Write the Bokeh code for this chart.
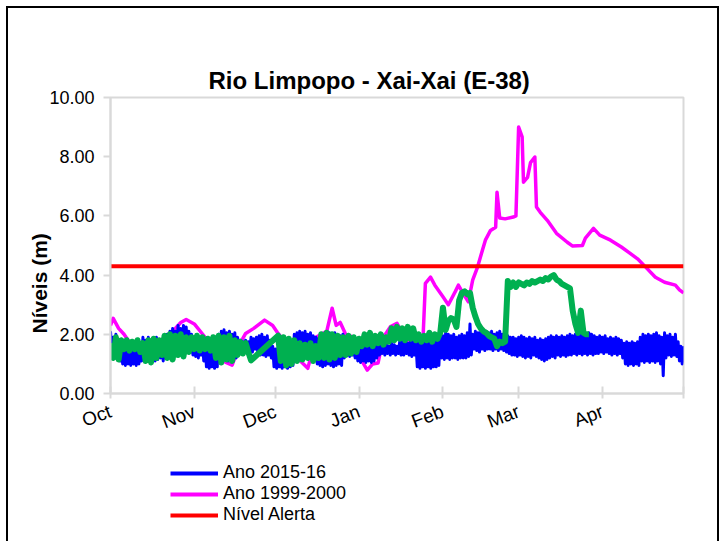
import math
from bokeh.plotting import figure
from bokeh.layouts import column
from bokeh.models import Range1d, FixedTicker, Legend, LegendItem, Title, PrintfTickFormatter
from bokeh.embed import file_html
from bokeh.resources import INLINE

# ---------------- data ----------------
# x positions are days since 1 October
month_ticks = [0, 31, 61, 92, 123, 151, 182, 212]
month_labels = ["Oct", "Nov", "Dec", "Jan", "Feb", "Mar", "Apr", ""]
y_ticks = [0, 2, 4, 6, 8, 10]

# Ano 2015-16: daily high-water and low-water readings, days 0..212
blue_high = [
    2.1, 1.9, 2.0, 1.7, 1.8, 1.6, 1.7, 1.5, 1.6, 1.7,
    1.8, 1.7, 1.9, 1.8, 1.9, 1.7, 1.8, 1.9, 1.8, 1.7,
    1.9, 2.0, 2.1, 2.2, 2.1, 2.3, 2.2, 2.3, 2.25, 2.1,
    2.0, 1.9, 1.95, 1.9, 1.8, 1.7, 1.75, 1.6, 1.7, 1.8,
    2.0, 2.1, 2.15, 2.05, 2.1, 2.0, 2.05, 1.9, 1.8, 1.75,
    1.8, 1.75, 1.9, 1.85, 1.9, 1.95, 2.0, 1.9, 1.95, 1.8,
    1.6, 1.5, 1.55, 1.5, 1.6, 1.5, 1.6, 1.7, 2.0, 2.05,
    2.1, 2.05, 2.1, 2.0, 2.05, 1.95, 1.9, 1.85, 1.8, 1.9,
    2.0, 2.05, 1.95, 2.05, 1.9, 1.95, 2.0, 1.9, 1.95, 1.9,
    1.8, 1.75, 1.7, 1.65, 1.6, 1.7, 1.65, 1.7, 1.7, 1.65,
    1.7, 1.65, 1.7, 1.6, 1.7, 1.65, 1.6, 1.75, 1.8, 1.75,
    1.7, 1.75, 1.8, 1.7, 1.75, 1.8, 1.7, 1.8, 1.75, 1.7,
    1.8, 1.9, 2.0, 1.95, 2.05, 2.0, 1.95, 2.0, 1.9, 1.95,
    2.0, 1.95, 2.05, 2.35, 2.0, 2.1, 2.05, 2.1, 2.0, 2.1,
    2.05, 2.1, 2.0, 2.05, 2.1, 2.0, 2.05, 1.95, 1.9, 1.9,
    1.85, 1.9, 1.95, 1.9, 1.85, 1.9, 1.85, 1.9, 1.8, 1.85,
    1.8, 1.85, 1.9, 1.95, 1.9, 1.95, 1.9, 1.95, 1.9, 1.95,
    2.0, 1.95, 2.0, 1.95, 2.0, 2.05, 1.95, 2.05, 2.0, 1.95,
    1.9, 1.95, 1.9, 1.95, 1.85, 1.9, 1.85, 1.9, 1.85, 1.8,
    1.7, 1.75, 1.7, 1.75, 1.7, 1.75, 1.9, 2.0, 1.95, 2.0,
    1.95, 2.0, 2.05, 1.95, 1.9, 2.05, 1.95, 2.0, 1.9, 2.0,
    1.75, 1.6, 1.55,
]
blue_low = [
    1.4, 1.3, 1.2, 1.1, 1.0, 0.95, 1.0, 0.95, 1.0, 0.95,
    1.0, 1.1, 1.1, 1.2, 1.1, 1.2, 1.1, 1.15, 1.2, 1.1,
    1.2, 1.3, 1.4, 1.45, 1.5, 1.4, 1.6, 1.55, 1.5, 1.4,
    1.3, 1.25, 1.2, 1.3, 1.1, 0.9, 0.85, 0.9, 0.85, 0.9,
    1.1, 1.15, 1.2, 1.1, 1.15, 1.1, 1.2, 1.4, 1.5, 1.45,
    1.5, 1.45, 1.4, 1.5, 1.4, 1.3, 1.3, 1.25, 1.3, 1.2,
    0.9, 0.85, 0.9, 0.85, 0.9, 0.85, 0.9, 0.95, 1.2, 1.3,
    1.4, 1.3, 1.35, 1.3, 1.2, 1.25, 1.0, 0.95, 0.9, 0.95,
    1.0, 0.95, 0.9, 0.95, 1.0, 0.95, 1.2, 1.3, 1.25, 1.3,
    1.2, 1.1, 1.05, 1.1, 1.05, 1.1, 1.05, 1.1, 1.2, 1.3,
    1.35, 1.3, 1.35, 1.3, 1.35, 1.3, 1.35, 1.3, 1.3, 1.35,
    1.3, 1.25, 1.3, 0.9, 0.85, 0.9, 0.85, 0.9, 0.85, 0.9,
    0.9, 0.95, 1.2, 1.15, 1.2, 1.15, 1.2, 1.2, 1.15, 1.2,
    1.2, 1.2, 1.25, 1.3, 1.5, 1.45, 1.4, 1.5, 1.45, 1.5,
    1.5, 1.45, 1.5, 1.45, 1.5, 1.45, 1.4, 1.35, 1.3, 1.3,
    1.25, 1.3, 1.25, 1.2, 1.25, 1.2, 1.3, 1.25, 1.2, 1.15,
    1.1, 1.15, 1.2, 1.25, 1.2, 1.3, 1.25, 1.3, 1.25, 1.3,
    1.3, 1.35, 1.3, 1.35, 1.3, 1.35, 1.3, 1.35, 1.3, 1.35,
    1.35, 1.4, 1.35, 1.4, 1.35, 1.3, 1.35, 1.3, 1.35, 1.2,
    1.0, 0.95, 1.0, 0.95, 1.0, 0.95, 1.1, 1.05, 1.1, 1.05,
    1.1, 1.05, 1.1, 1.0, 0.6, 1.2, 1.3, 1.25, 1.3, 1.25,
    1.1, 1.0, 1.05,
]

# Ano 1999-2000
magenta_days = [
    0, 1, 3, 5, 8, 12, 16, 20, 23, 26, 28, 31, 35, 39, 42.5, 45, 48, 50, 53, 57,
    60, 62, 65, 68, 73, 76, 80, 82, 83.5, 85, 87, 90, 93, 95, 97, 99, 101, 103.5, 106, 109,
    111.5, 113.5, 115.5, 116.5, 118.4, 120, 123, 125, 127.6, 128.7, 131, 132.4, 134, 135.8, 137.6, 138.7, 140.6, 142.5, 143, 144,
    146, 149, 150, 151, 152.3, 152.8, 154.3, 155.4, 157, 157.6, 159, 161.6, 165, 169, 171, 174.6, 175.7, 178.7, 181, 185,
    189, 192, 195, 198, 201.6, 205, 209, 210.5, 212,
]
magenta_vals = [
    2.3, 2.54, 2.2, 2.0, 1.6, 1.5, 1.6, 1.9, 2.1, 2.4, 2.5, 2.35, 1.9, 1.4, 1.06, 0.96, 1.7, 2.03, 2.2, 2.48,
    2.3, 2.03, 1.7, 1.3, 0.85, 1.9, 2.1, 2.88, 2.3, 2.4, 2.0, 1.9, 1.1, 0.79, 1.0, 1.03, 1.9, 2.25, 2.37, 1.87,
    1.57, 1.4, 1.6, 3.72, 3.93, 3.66, 3.27, 3.0, 3.45, 3.66, 3.3, 3.1, 3.83, 4.27, 4.84, 5.18, 5.51, 5.62, 6.8, 5.93,
    5.9, 5.96, 6.0, 9.0, 8.67, 7.14, 7.3, 7.8, 7.99, 6.3, 6.12, 5.85, 5.41, 5.11, 4.98, 5.0, 5.25, 5.58, 5.35, 5.18,
    4.95, 4.75, 4.55, 4.27, 3.93, 3.76, 3.66, 3.5, 3.4,
]

# Third (unlabelled) series, green; no readings between day 53 and day 61
green_days = list(range(0, 53)) + list(range(62, 178))
green_vals = [
    1.7, 1.2, 1.9, 1.15, 1.8, 1.5, 1.8, 1.45, 1.75, 1.5,
    1.8, 1.4, 1.7, 1.1, 1.8, 1.05, 1.85, 1.2, 1.8, 1.3,
    1.95, 1.2, 2.0, 1.15, 1.95, 1.3, 2.0, 1.25, 1.9, 1.4,
    1.9, 1.5, 1.95, 1.45, 1.9, 1.5, 1.85, 1.45, 1.9, 1.2,
    1.95, 1.05, 1.9, 1.15, 1.95, 1.1, 1.8, 1.3, 1.75, 1.35,
    1.7, 1.4, 1.12,
    1.95, 1.1, 1.9, 0.95, 1.85, 1.0, 1.8, 1.1,
    1.7, 1.15, 1.65, 1.2, 1.7, 1.1, 1.6, 1.2, 2.0, 1.2,
    2.05, 1.15, 2.0, 1.2, 1.95, 1.3, 1.9, 1.3, 1.95, 1.35,
    1.9, 1.4, 1.85, 1.6, 2.0, 1.65, 2.05, 1.6, 1.95, 1.7,
    2.0, 1.65, 1.9, 1.75, 2.2, 1.8, 2.25, 1.85, 2.2, 1.8,
    2.25, 1.85, 2.2, 1.8, 2.0, 1.75, 1.95, 1.8, 2.05, 1.75,
    2.0, 1.85, 2.05, 2.9, 2.15, 2.45, 2.55, 2.5, 2.25, 3.15,
    3.4, 3.45, 3.35, 3.4, 2.9, 2.6, 2.35, 2.2, 2.1, 2.05,
    1.95, 1.9, 1.85, 1.6, 1.75, 1.7, 1.75, 3.8, 3.6, 3.75,
    3.6, 3.75, 3.7, 3.65, 3.75, 3.7, 3.8, 3.75, 3.8, 3.85,
    3.8, 3.9, 3.85, 3.95, 4.0, 3.85, 3.8, 3.7, 3.65, 3.6,
    3.55, 2.8, 2.35, 2.05, 2.8, 2.05, 2.0, 2.0,
]

# Nível Alerta
alert_days = [0, 212]
alert_vals = [4.3, 4.3]

series_labels = ["Ano 2015-16", "Ano 1999-2000", "Nível Alerta"]
title_text = "Rio Limpopo - Xai-Xai (E-38)"
y_label_text = "Níveis (m)"

# high water in the first half of each day, low water in the second half
blue_x, blue_y = [], []
for d, (hi, lo) in enumerate(zip(blue_high, blue_low)):
    blue_x += [d, d + 0.5]
    blue_y += [hi, lo]

# ---------------- styling constants ----------------
FONT = "Liberation Sans"
GRAY = "#d9d9d9"
C_BLUE, C_MAG, C_RED, C_GREEN = "#0000FF", "#FF00FF", "#FF0000", "#00B050"

# ---------------- main chart ----------------
p = figure(
    frame_width=573, frame_height=296,
    x_range=Range1d(0, 212), y_range=Range1d(0, 10),
    output_backend="svg", toolbar_location=None,
    min_border_left=102, min_border_right=34, min_border_top=89, min_border_bottom=60,
    background_fill_color="white", border_fill_color="white",
)

p.title.text = title_text
p.title.text_font = FONT
p.title.text_font_size = "24px"
p.title.text_font_style = "bold"
p.title.text_color = "black"
p.title.align = "left"
p.title.offset = 98
p.title.standoff = 8

p.xgrid.visible = False
p.ygrid.visible = False
p.outline_line_color = GRAY
p.outline_line_width = 2

xa = p.xaxis[0]
xa.ticker = FixedTicker(ticks=month_ticks)
xa.major_label_overrides = {t: l for t, l in zip(month_ticks, month_labels)}
xa.major_label_orientation = 0.36
xa.major_label_text_font = FONT
xa.major_label_text_font_size = "19px"
xa.major_label_text_color = "black"
xa.axis_line_color = GRAY
xa.axis_line_width = 2
xa.major_tick_line_color = GRAY
xa.major_tick_line_width = 2
xa.major_tick_in = 7
xa.major_tick_out = 5
xa.minor_tick_line_color = None
xa.major_label_standoff = 12

ya = p.yaxis[0]
ya.ticker = FixedTicker(ticks=y_ticks)
ya.formatter = PrintfTickFormatter(format="%.2f")
ya.major_label_text_font = FONT
ya.major_label_text_font_size = "18px"
ya.major_label_text_color = "black"
ya.axis_line_color = GRAY
ya.axis_line_width = 2
ya.major_tick_line_color = GRAY
ya.major_tick_line_width = 2
ya.major_tick_in = 0
ya.major_tick_out = 7
ya.minor_tick_line_color = None
ya.major_label_standoff = 9

ytitle = Title(text=y_label_text, align="left", offset=60, standoff=-8,
               text_font=FONT, text_font_size="21px", text_font_style="bold",
               text_color="black")
p.add_layout(ytitle, "left")

p.line(magenta_days, magenta_vals, line_color=C_MAG, line_width=3.5, line_join="round")
p.line(blue_x, blue_y, line_color=C_BLUE, line_width=3, line_join="round")
p.line(alert_days, alert_vals, line_color=C_RED, line_width=4)
p.line(green_days, green_vals, line_color=C_GREEN, line_width=6, line_join="round")

# ---------------- legend strip below the chart ----------------
# (ranges chosen so the key renderers' own data stay out of view)
leg = figure(
    width=707, height=88, x_range=Range1d(-2, -1), y_range=Range1d(-2, -1),
    output_backend="svg", toolbar_location=None,
    x_axis_location=None, y_axis_location=None, min_border=0,
    background_fill_color="white", border_fill_color="white",
)
leg.grid.visible = False
leg.outline_line_color = None
k_blue = leg.line(blue_x, blue_y, line_color=C_BLUE, line_width=4)
k_mag = leg.line(magenta_days, magenta_vals, line_color=C_MAG, line_width=4)
k_red = leg.line(alert_days, alert_vals, line_color=C_RED, line_width=4)

legend = Legend(
    items=[LegendItem(label=series_labels[0], renderers=[k_blue]),
           LegendItem(label=series_labels[1], renderers=[k_mag]),
           LegendItem(label=series_labels[2], renderers=[k_red])],
    location=(60, 16),
    padding=0, margin=0, spacing=-3,
    glyph_width=48, glyph_height=18, label_height=18, label_standoff=5,
    label_text_font=FONT, label_text_font_size="18px", label_text_line_height=1.0,
    label_text_color="black",
    background_fill_alpha=0, border_line_color=None,
)
leg.add_layout(legend)

layout = column(
    p, leg, spacing=0,
    styles={"border-left": "2px solid black", "border-top": "2px solid black",
            "border-right": "2px solid black",
            "margin-left": "6px", "margin-top": "6px"},
)

open("out.html", "w").write(file_html(layout, INLINE))
